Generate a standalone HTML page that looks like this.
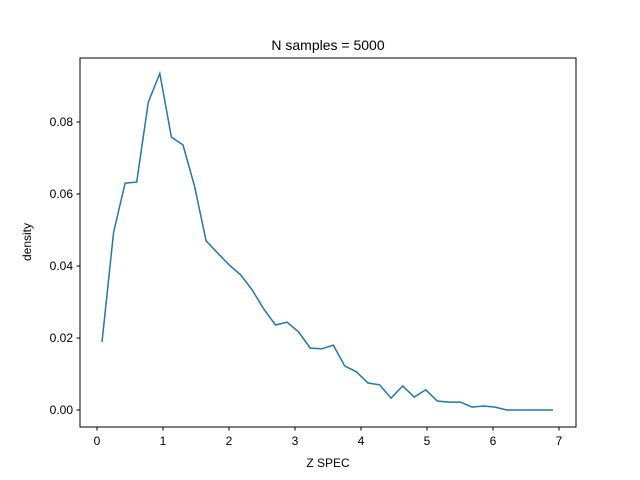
<!DOCTYPE html>
<html><head><meta charset="utf-8"><style>
body{margin:0;background:#fff}
svg{display:block;font-family:"Liberation Sans","DejaVu Sans",sans-serif}
</style></head><body>
<svg id="chart" width="640" height="480">
<rect x="0" y="0" width="640" height="480" fill="#fff"/>
<text x="328" y="50" font-size="14" text-anchor="middle">N samples = 5000</text>
<text x="328" y="467" font-size="12" text-anchor="middle">Z SPEC</text>
<text transform="translate(31,242) rotate(-90)" font-size="12" text-anchor="middle">density</text>
<g id="ticks"></g>
<polyline id="line" fill="none" stroke="#1f77b4" stroke-width="1.5"/>
<rect x="80" y="58" width="496" height="369" fill="none" stroke="#000" stroke-width="1"/>
</svg>
<script>
const xStart = 0.076;
const xStep = 0.1752;
const densityValues = [0.0189,0.0494,0.063,0.0633,0.0855,0.0935,0.0758,0.0736,0.0622,0.047,0.0436,0.0403,0.0375,0.0333,0.028,0.0236,0.0244,0.0217,0.0172,0.017,0.018,0.0122,0.0106,0.0075,0.007,0.0033,0.0067,0.0036,0.0056,0.0025,0.0022,0.0022,0.0008,0.0011,0.0008,0,0,0,0,0];
const xTicks = [0,1,2,3,4,5,6,7];
const yTicks = [0,0.02,0.04,0.06,0.08];
const yTickLabels = ["0.00","0.02","0.04","0.06","0.08"];
function xs(v){return 97+v*66;}
function ys(v){return 410-v*3600;}
const NS="http://www.w3.org/2000/svg";
const g=document.getElementById('ticks');
xTicks.forEach(t=>{
  const l=document.createElementNS(NS,'line');
  l.setAttribute('x1',xs(t));l.setAttribute('x2',xs(t));l.setAttribute('y1',427);l.setAttribute('y2',430.5);l.setAttribute('stroke','#000');
  
  
  g.appendChild(l);
  const tx=document.createElementNS(NS,'text');
  tx.setAttribute('x',xs(t));tx.setAttribute('y',445);tx.setAttribute('font-size','12');tx.setAttribute('text-anchor','middle');
  tx.textContent=t;
  
  
  g.appendChild(tx);
});
yTicks.forEach((t,i)=>{
  const l=document.createElementNS(NS,'line');
  l.setAttribute('x1',76.5);l.setAttribute('x2',80);l.setAttribute('y1',ys(t));l.setAttribute('y2',ys(t));l.setAttribute('stroke','#000');
  
  
  g.appendChild(l);
  const tx=document.createElementNS(NS,'text');
  tx.setAttribute('x',73);tx.setAttribute('y',ys(t)+4);tx.setAttribute('font-size','12');tx.setAttribute('text-anchor','end');
  tx.textContent=yTickLabels[i];
  
  
  g.appendChild(tx);
});
const pts=densityValues.map((v,i)=>xs(xStart+i*xStep).toFixed(1)+','+ys(v).toFixed(1)).join(' ');
document.getElementById('line').setAttribute('points',pts);
</script>
</body></html>
